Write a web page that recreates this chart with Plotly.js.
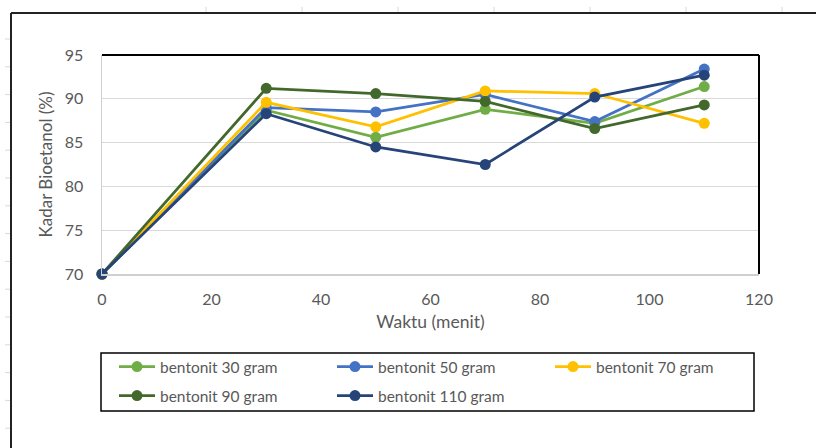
<!DOCTYPE html>
<html>
<head>
<meta charset="utf-8">
<script src="https://cdn.plot.ly/plotly-3.0.1.min.js"></script>
<style>
  html, body { margin: 0; padding: 0; background: #ffffff; }
  #chart { width: 816px; height: 448px; }
</style>
</head>
<body>
<div id="chart"></div>
<script>
// ---- data ----
const waktu = [0, 30, 50, 70, 90, 110];
const seriesNames = ["bentonit 30 gram", "bentonit 50 gram", "bentonit 70 gram", "bentonit 90 gram", "bentonit 110 gram"];
const bentonit30 = [70, 88.7, 85.6, 88.8, 87.2, 91.4];
const bentonit50 = [70, 89.0, 88.5, 90.5, 87.4, 93.4];
const bentonit70 = [70, 89.6, 86.8, 90.9, 90.6, 87.2];
const bentonit90 = [70, 91.2, 90.6, 89.7, 86.6, 89.3];
const bentonit110 = [70, 88.3, 84.5, 82.5, 90.2, 92.7];
const seriesValues = [bentonit30, bentonit50, bentonit70, bentonit90, bentonit110];
const xTicks = [0, 20, 40, 60, 80, 100, 120];
const yTicks = [70, 75, 80, 85, 90, 95];

// ---- styles ----
const colors = ["#70AD47", "#4472C4", "#FFC000", "#43682B", "#264478"];
const legendOf = ["legend", "legend", "legend", "legend2", "legend2"];
const FONT = "Lato, 'Open Sans', sans-serif";
const TXT = "#595959";

const traces = seriesValues.map((vals, i) => ({
  type: "scatter",
  mode: "lines+markers",
  name: seriesNames[i],
  x: waktu,
  y: vals,
  legend: legendOf[i],
  cliponaxis: false,
  line: { color: colors[i], width: 2.75 },
  marker: { color: colors[i], size: 11 }
}));

// plot area in pixels
const W = 816, H = 448;
const L = 102, R = 759, T = 55, B = 274;
const px2x = p => (p - L) / (R - L);
const py2y = p => (B - p) / (B - T);

const shapes = [];
// plot area top and right border
shapes.push({ type: "line", xref: "paper", yref: "paper", x0: 0, x1: 1, y0: 1, y1: 1, line: { color: "#000", width: 2 } });
shapes.push({ type: "line", xref: "paper", yref: "paper", x0: 1, x1: 1, y0: 0, y1: 1, line: { color: "#000", width: 2 } });
// legend box
shapes.push({ type: "rect", xref: "paper", yref: "paper", x0: px2x(101), x1: px2x(754), y0: py2y(353), y1: py2y(411), line: { color: "#000", width: 1.5 } });
// outer frame (worksheet / chart object edge)
shapes.push({ type: "line", xref: "paper", yref: "paper", x0: px2x(11), x1: px2x(816), y0: py2y(13), y1: py2y(13), line: { color: "#222", width: 2 } });
shapes.push({ type: "line", xref: "paper", yref: "paper", x0: px2x(11), x1: px2x(11), y0: py2y(13), y1: py2y(448), line: { color: "#222", width: 2 } });
// faint spreadsheet ticks
for (let k = 0; k < 7; k++) {
  const xp = 206 + 96 * k;
  shapes.push({ type: "line", xref: "paper", yref: "paper", x0: px2x(xp), x1: px2x(xp), y0: py2y(7), y1: py2y(12), line: { color: "#d9d9d9", width: 1 } });
}
for (let k = 0; k < 15; k++) {
  const yp = 39 + 27.8 * k;
  shapes.push({ type: "line", xref: "paper", yref: "paper", x0: px2x(5), x1: px2x(10), y0: py2y(yp), y1: py2y(yp), line: { color: "#d9d9d9", width: 1 } });
}

const legendBase = {
  orientation: "h",
  xanchor: "left",
  yanchor: "middle",
  x: px2x(114),
  bgcolor: "rgba(0,0,0,0)",
  borderwidth: 0,
  itemwidth: 36,
  entrywidth: 167,
  entrywidthmode: "pixels",
  font: { family: FONT, size: 15.5, color: TXT }
};

const layout = {
  width: W,
  height: H,
  margin: { l: L, r: W - R, t: T, b: H - B },
  paper_bgcolor: "#ffffff",
  plot_bgcolor: "#ffffff",
  font: { family: FONT, color: TXT },
  showlegend: true,
  legend: Object.assign({}, legendBase, { y: py2y(367) }),
  legend2: Object.assign({}, legendBase, { y: py2y(396) }),
  xaxis: {
    range: [0, 120],
    tickvals: xTicks,
    ticktext: xTicks.map(String),
    showgrid: false,
    zeroline: false,
    showline: true,
    linecolor: "#d0d0d0",
    linewidth: 1.5,
    ticks: "",
    ticklabelstandoff: 10,
    tickfont: { family: FONT, size: 16, color: TXT },
    title: { text: "Waktu (menit)", font: { family: FONT, size: 17.5, color: TXT }, standoff: 9 }
  },
  yaxis: {
    range: [70, 95],
    tickvals: yTicks,
    ticktext: yTicks.map(String),
    showgrid: true,
    gridcolor: "#d9d9d9",
    gridwidth: 1,
    zeroline: false,
    showline: true,
    linecolor: "#d0d0d0",
    linewidth: 1.5,
    ticks: "",
    ticklabelstandoff: 14,
    tickfont: { family: FONT, size: 16, color: TXT },
    title: { text: "Kadar Bioetanol (%)", font: { family: FONT, size: 17, color: TXT }, standoff: 8 }
  },
  shapes: shapes
};

Plotly.newPlot("chart", traces, layout, { displayModeBar: false, staticPlot: true });
</script>
</body>
</html>
